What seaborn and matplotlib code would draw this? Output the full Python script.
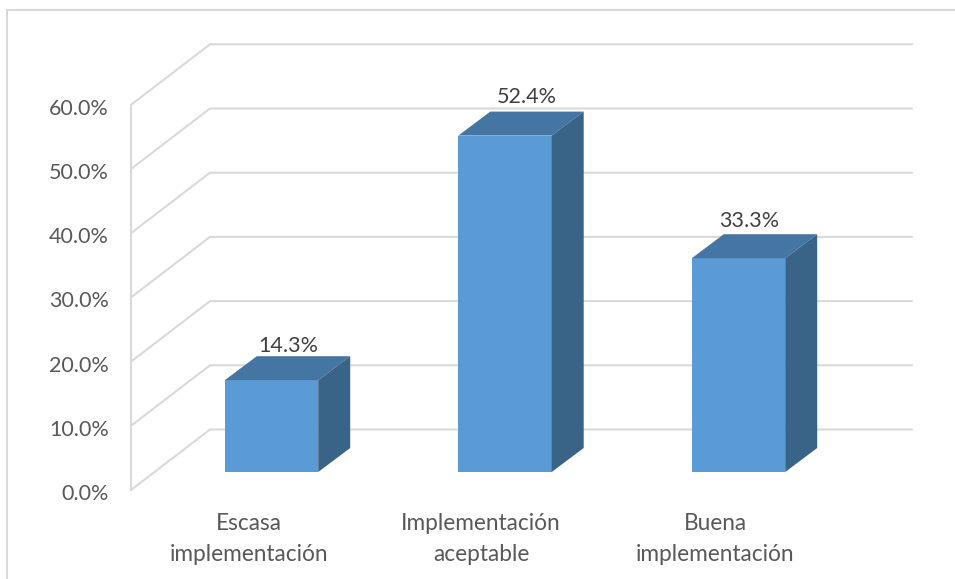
"""
Implementation level chart, drawn as a faux 3D column chart
"""

import matplotlib.pyplot as plt
import matplotlib.patches as mpatches
import pandas as pd
import seaborn as sns

CATEGORIES = ["Escasa\nimplementación", "Implementación\naceptable", "Buena\nimplementación"]
VALUES = [14.3, 52.4, 33.3]
VALUE_LABELS = ["14.3%", "52.4%", "33.3%"]
TICKS = [0, 10, 20, 30, 40, 50, 60]
TICK_LABELS = ["0.0%", "10.0%", "20.0%", "30.0%", "40.0%", "50.0%", "60.0%"]

W, H = 955, 579
GRID = "#D9D9D9"
FACE = "#5B9BD5"
TOP = "#4575A3"
SIDE = "#396387"
TEXT = "#595959"
LABEL = "#404040"
FONT_SIZE = 15.5
CATEGORY_FONT_SIZE = 16.3

# one data unit of y is this many pixels
PX_Y = 6.42
PX_X = 233.5
FIRST_BAR_PX = 271.5
BASE_PX = 472

# depth of a bar and of the chart floor, in data units
BAR_DX = 32 / PX_X
BAR_DY = 24 / PX_Y
FRONT_X = (131 - FIRST_BAR_PX) / PX_X
FRONT_Y = -(490 - BASE_PX) / PX_Y
BACK_X = (210 - FIRST_BAR_PX) / PX_X
BACK_Y = (BASE_PX - 429.5) / PX_Y
RIGHT_X = (912 - FIRST_BAR_PX) / PX_X

# the value labels do not sit at a constant place over the bars
LABEL_OFFSETS = [(16.5, 10), (22, 14.5), (10.5, 13)]
CATEGORY_SHIFTS = [-22.5, -24, -23.5]


def main():
    sns.set_theme(style="white")
    plt.rcParams["font.family"] = ["Lato", "DejaVu Sans"]
    fig = plt.figure(figsize=(W / 100, H / 100), dpi=100)
    ax = fig.add_axes([0, 0, 1, 1])

    df = pd.DataFrame({"category": CATEGORIES, "value": VALUES})
    sns.barplot(data=df, x="category", y="value", color=FACE, saturation=1,
                width=0.4, linewidth=0, ax=ax, zorder=3)

    ax.set_xlim(-FIRST_BAR_PX / PX_X, (W - FIRST_BAR_PX) / PX_X)
    ax.set_ylim(-(H - BASE_PX) / PX_Y, BASE_PX / PX_Y)
    ax.set_xlabel("")
    ax.set_ylabel("")
    ax.set_xticks([])
    ax.set_yticks([])
    sns.despine(ax=ax, left=True, bottom=True)

    draw_frame(ax)
    draw_walls(ax)
    draw_depth(ax)
    draw_texts(ax)
    fig.savefig("out.png", dpi=100)


def draw_frame(ax):
    left = (7.5 - FIRST_BAR_PX) / PX_X
    right = (W - FIRST_BAR_PX) / PX_X
    top = (BASE_PX - 10) / PX_Y
    ax.plot([left, left, right], [-(H - BASE_PX) / PX_Y, top, top],
            color=GRID, lw=1.5, zorder=1)


def draw_walls(ax):
    for tick in TICKS:
        ax.plot([FRONT_X, BACK_X, RIGHT_X],
                [tick + FRONT_Y, tick + BACK_Y, tick + BACK_Y],
                color=GRID, lw=1.5, zorder=1)
    ax.plot([FRONT_X, FRONT_X], [FRONT_Y, TICKS[-1] + FRONT_Y],
            color=GRID, lw=1.5, zorder=1)


def draw_depth(ax):
    for patch in ax.patches[:len(VALUES)]:
        x0 = patch.get_x()
        x1 = x0 + patch.get_width()
        y1 = patch.get_height()
        top = [(x0, y1), (x1, y1), (x1 + BAR_DX, y1 + BAR_DY), (x0 + BAR_DX, y1 + BAR_DY)]
        side = [(x1, 0), (x1 + BAR_DX, BAR_DY), (x1 + BAR_DX, y1 + BAR_DY), (x1, y1)]
        ax.add_patch(mpatches.Polygon(top, closed=True, color=TOP, lw=0, zorder=3))
        ax.add_patch(mpatches.Polygon(side, closed=True, color=SIDE, lw=0, zorder=3))


def draw_texts(ax):
    for tick, label in zip(TICKS, TICK_LABELS):
        ax.annotate(label, (FRONT_X, tick + FRONT_Y), xytext=(-22, -4),
                    textcoords="offset pixels", ha="right", va="center",
                    fontsize=FONT_SIZE, color=TEXT)
    for i, label in enumerate(CATEGORIES):
        ax.annotate(label, (i, 0), xytext=(CATEGORY_SHIFTS[i], -67),
                    textcoords="offset pixels", ha="center", va="center",
                    fontsize=CATEGORY_FONT_SIZE, color=TEXT, linespacing=1.63)
    for i, (value, label) in enumerate(zip(VALUES, VALUE_LABELS)):
        ax.annotate(label, (i, value + BAR_DY), xytext=LABEL_OFFSETS[i],
                    textcoords="offset pixels", ha="center", va="center",
                    fontsize=FONT_SIZE, color=LABEL)


if __name__ == "__main__":
    main()
